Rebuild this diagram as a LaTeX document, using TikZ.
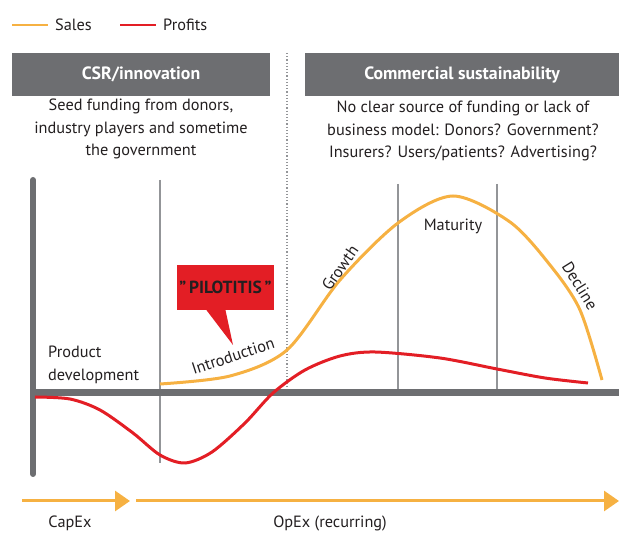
\documentclass[tikz,border=0pt]{standalone}
\usepackage{fontspec}
\setmainfont{PT Sans}
\definecolor{salesorange}{HTML}{F6B142}
\definecolor{profitred}{HTML}{E31E25}
\definecolor{headgray}{HTML}{6D6E71}
\definecolor{linegray}{HTML}{939598}
\definecolor{inkdark}{HTML}{231F20}
\tikzset{
  txt/.style={font=\fontsize{16.3}{22.5}\selectfont, text=inkdark, inner sep=0pt},
  header/.style={fill=headgray, text=white, font=\fontsize{17.8}{20}\selectfont\bfseries, minimum height=43pt, inner sep=0pt},
  sales/.style={salesorange, line width=3pt},
  profits/.style={profitred, line width=3pt},
  stage/.style={linegray, line width=1.3pt},
  flow/.style={salesorange, line width=3pt, -{Triangle[length=15pt, width=20pt]}}
}
\usetikzlibrary{arrows.meta}
\begin{document}
\begin{tikzpicture}[x=1pt, y=-1pt]
\useasboundingbox (0,0) rectangle (619,534);
% legend
\node[txt, anchor=west] (salesleg) at (55,25) {Sales};
\node[txt, anchor=west] (profitleg) at (163,25) {Profits};
\coordinate (salesline) at (12,25);
\coordinate (profitline) at (120,25);
\draw[salesorange, line width=1.5pt] (salesline) -- ([xshift=-7pt]salesleg.west);
\draw[profitred, line width=1.5pt] (profitline) -- ([xshift=-7pt]profitleg.west);
% headers
\node[header, minimum width=258pt] (csr) at (141,74.5) {CSR/innovation};
\node[header, minimum width=314pt] (comm) at (462,74.5) {Commercial sustainability};
\node[txt, align=center, anchor=north] (seed) at (141,99) {Seed funding from donors,\\industry players and sometime\\the government};
\node[txt, align=center, anchor=north] (funding) at (463,101) {No clear source of funding or lack of\\business model: Donors? Government?\\Insurers? Users/patients? Advertising?};
% stage lines
\coordinate (dottop) at (287,53);
\coordinate (dotbot) at (287,390);
\draw[linegray, line width=1.2pt, dotted] (dottop) -- (dotbot);
\coordinate (introtop) at (160,180);
\coordinate (introbot) at (160,463);
\coordinate (mattop) at (398,184);
\coordinate (matbot) at (398,393);
\coordinate (dectop) at (497,184);
\coordinate (decbot) at (497,393);
\draw[stage] (introtop) -- (introbot);
\draw[stage] (mattop) -- (matbot);
\draw[stage] (dectop) -- (decbot);
% axes
\coordinate (origin) at (33,393);
\coordinate (ytop) at (33,180);
\coordinate (ybot) at (33,474);
\coordinate (xend) at (619,393);
\draw[headgray, line width=6pt, line cap=round] (ytop) -- (ybot);
\draw[headgray, line width=7pt] (origin) -- (xend);
% curves
\draw[sales] plot[smooth, tension=0.5] coordinates {(160,384) (230,376) (287,350) (340,280) (398,223) (453,196) (510,222) (550,265) (580,310) (602,380)};
\draw[profits] plot[smooth, tension=0.5] coordinates {(35,397) (70,399) (100,410) (133,433) (160,455) (185,463) (212,452) (245,423) (273,393) (305,370) (340,356) (375,352) (440,358) (497,369) (545,378) (588,383)};
% stage labels
\node[txt, anchor=west, align=left] (proddev) at (48,365) {Product\\development};
\node[txt, rotate=18] (intro) at (233,356) {Introduction};
\node[txt, rotate=55] (growth) at (340,268) {Growth};
\node[txt] (maturity) at (453,226) {Maturity};
\node[txt, rotate=-58] (decline) at (580,286) {Decline};
% callout
\node[fill=profitred, minimum width=97pt, minimum height=45pt, inner sep=0pt, text=inkdark, font=\fontsize{17.5}{20}\selectfont\bfseries] (pilot) at (225.5,287.5) {\char"201D\,PILOTITIS\,\char"201D};
\coordinate (pilottip) at (233,345);
\fill[profitred] ([xshift=-19pt]pilot.south) -- (pilottip) -- ([xshift=0pt]pilot.south) -- cycle;
% expenditure arrows
\coordinate (capstart) at (22,501);
\coordinate (capend) at (130,501);
\coordinate (opstart) at (136,501);
\coordinate (opend) at (619,501);
\draw[flow] (capstart) -- (capend);
\draw[flow] (opstart) -- (opend);
\node[txt] (capex) at (70,523) {CapEx};
\node[txt] (opex) at (330,523) {OpEx (recurring)};
\end{tikzpicture}
\end{document}
